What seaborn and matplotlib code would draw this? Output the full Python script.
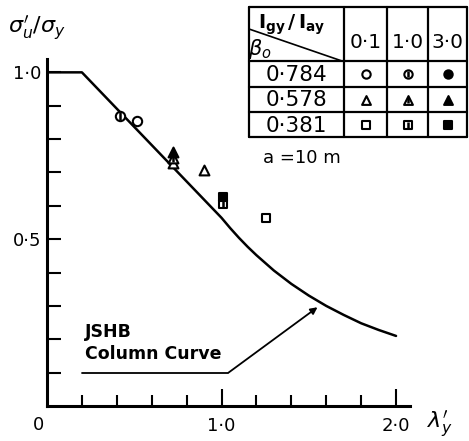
import numpy as np
import pandas as pd
import matplotlib.pyplot as plt
import seaborn as sns

sns.set_style("white")
plt.rcParams['font.family'] = ['DejaVu Sans']
plt.rcParams['mathtext.fontset'] = 'dejavusans'
plt.rcParams['text.color'] = 'k'
plt.rcParams['xtick.color'] = 'k'
plt.rcParams['ytick.color'] = 'k'

# JSHB column curve
curve_lam = [0.0, 0.2, 0.4, 0.6, 0.8, 1.0, 1.05, 1.1, 1.15, 1.2, 1.3, 1.4, 1.5, 1.6, 1.7, 1.8, 1.9, 2.0]
curve_sig = [1.0, 1.0, 0.891, 0.782, 0.673, 0.564, 0.533, 0.504, 0.477, 0.452, 0.406, 0.366, 0.331, 0.300, 0.273, 0.248, 0.228, 0.210]

# test points: slenderness, strength, beta_o, Igy/Iay
pt_lam = [0.42, 0.515, 0.72, 0.72, 0.72, 0.90, 1.01, 1.01, 1.255]
pt_sig = [0.870, 0.853, 0.727, 0.743, 0.760, 0.707, 0.605, 0.626, 0.562]
pt_beta = ["0·784", "0·784", "0·578", "0·578", "0·578", "0·578", "0·381", "0·381", "0·381"]
pt_ratio = ["1·0", "0·1", "0·1", "1·0", "3·0", "0·1", "1·0", "3·0", "0·1"]

betas = ["0·784", "0·578", "0·381"]
ratios = ["0·1", "1·0", "3·0"]
beta_marker = {"0·784": "o", "0·578": "^", "0·381": "s"}

xtick_pos = [1.0, 2.0]
xtick_lab = ["1·0", "2·0"]
ytick_pos = [0.5, 1.0]
ytick_lab = ["0·5", "1·0"]

curve = pd.DataFrame({"lam": curve_lam, "sig": curve_sig})
pts = pd.DataFrame({"lam": pt_lam, "sig": pt_sig, "beta": pt_beta, "ratio": pt_ratio})

W, H = 469, 441
fig = plt.figure(figsize=(W / 100, H / 100), dpi=100)
ax = fig.add_axes([47 / W, 35 / H, 363 / W, 347 / H])

sns.lineplot(data=curve, x="lam", y="sig", ax=ax, color="k", lw=1.8,
             sort=False, estimator=None)

size = {"o": 45, "^": 50, "s": 40}
for (b, r), g in pts.groupby(["beta", "ratio"]):
    m = beta_marker[b]
    fc = "k" if r == "3·0" else "white"
    sns.scatterplot(data=g, x="lam", y="sig", ax=ax, marker=m, s=size[m],
                    facecolor=fc, edgecolor="k", linewidth=1.5, zorder=3)
    if r == "1·0":
        sns.scatterplot(data=g, x="lam", y="sig", ax=ax, marker="|", s=size[m] * 0.6,
                        color="k", linewidth=1.8, zorder=4)

# annotation for the curve
ax.plot([0.2, 1.04], [0.1, 0.1], color="k", lw=1.3)
ax.annotate("", xy=(1.55, 0.296), xytext=(1.04, 0.1),
            arrowprops=dict(arrowstyle="-|>", color="k", lw=1.3,
                            mutation_scale=10, shrinkA=0, shrinkB=0))
ax.text(0.22, 0.19, "JSHB\nColumn Curve", fontsize=12.5, fontweight="bold",
        ha="left", va="center", linespacing=1.3)

ax.set_xlim(0, 2.08)
ax.set_ylim(0, 1.04)
ax.set_xticks(xtick_pos)
ax.set_xticklabels(xtick_lab, fontsize=13)
ax.set_xticks(np.arange(0.2, 2.0, 0.2), minor=True)
ax.set_yticks(ytick_pos)
ax.set_yticklabels(ytick_lab, fontsize=13)
ax.set_yticks([0.1, 0.2, 0.3, 0.4, 0.6, 0.7, 0.8, 0.9], minor=True)
ax.tick_params(axis="both", which="both", bottom=True, left=True)
ax.tick_params(axis="x", which="major", direction="in", length=12, width=1.5, pad=8)
ax.tick_params(axis="x", which="minor", direction="in", length=8, width=1.5)
ax.tick_params(axis="y", which="both", direction="in", length=10, width=1.5, pad=4)
ax.set_xlabel("")
ax.set_ylabel("")
for s in ["top", "right"]:
    ax.spines[s].set_visible(False)
for s in ["left", "bottom"]:
    ax.spines[s].set_linewidth(2.2)
    ax.spines[s].set_color("k")

fig.text(38 / W, 1 - 425 / H, "0", fontsize=13, ha="center", va="center")
fig.text(8 / W, 1 - 28 / H, r"$\sigma_u^{\prime}/\sigma_y$", fontsize=16,
         ha="left", va="center")
fig.text(427 / W, 1 - 424 / H, r"$\lambda_y^{\prime}$", fontsize=16,
         ha="left", va="center")

# legend table drawn in pixel coordinates
tx = fig.add_axes([0, 0, 1, 1], facecolor="none")
tx.set_xlim(0, W)
tx.set_ylim(H, 0)
tx.axis("off")
L, R, T, B = 249, 467, 7, 137
cols = [L, 344, 387, 428, R]
rows = [T, 61, 87, 112, B]
for yy in rows:
    tx.plot([L, R], [yy, yy], color="k", lw=1.6)
for xx in cols:
    tx.plot([xx, xx], [T, B], color="k", lw=1.6)
tx.plot([L, 342], [29, 61], color="k", lw=1.2)
tx.text(292, 25, r"$\mathbf{I_{gy}\,/\,I_{ay}}$", fontsize=14, ha="center", va="center")
tx.text(260, 49, r"$\beta_o$", fontsize=15, ha="center", va="center")
for j, r in enumerate(ratios):
    tx.text((cols[j + 1] + cols[j + 2]) / 2, 42, r, fontsize=14.5,
            ha="center", va="center")
for i, b in enumerate(betas):
    yc = (rows[i + 1] + rows[i + 2]) / 2
    tx.text((cols[0] + cols[1]) / 2, yc + 1, b, fontsize=15.5, ha="center", va="center")
    m = beta_marker[b]
    for j, r in enumerate(ratios):
        xc = (cols[j + 1] + cols[j + 2]) / 2
        fc = "k" if r == "3·0" else "white"
        tx.scatter([xc], [yc], marker=m, s=size[m] * 0.8, facecolor=fc,
                   edgecolor="k", linewidth=1.5, zorder=3)
        if r == "1·0":
            tx.scatter([xc], [yc], marker="|", s=size[m] * 0.5, color="k",
                       linewidth=1.8, zorder=4)
tx.text(302, 158, "a =10 m", fontsize=13, ha="center", va="center")

fig.savefig("out.png", dpi=100)
